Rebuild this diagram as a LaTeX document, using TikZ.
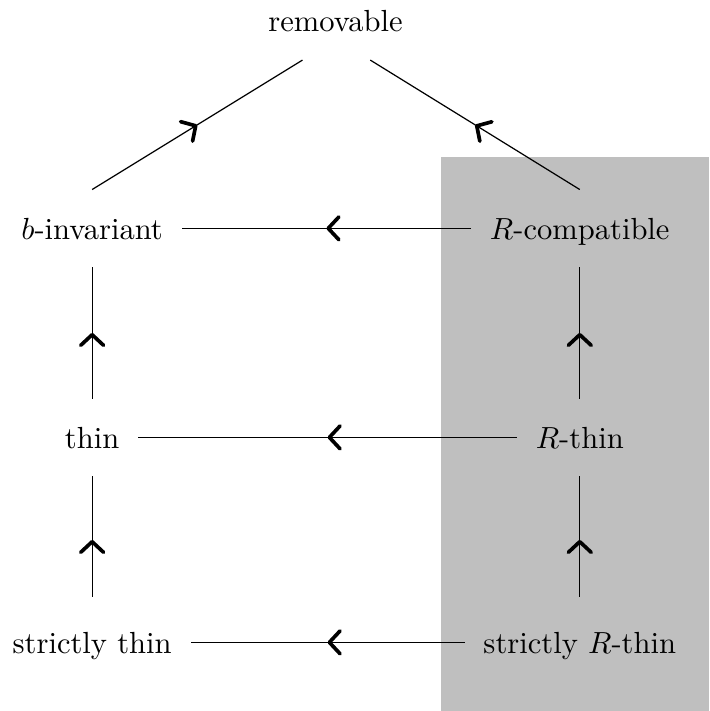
\documentclass[tikz,border=0pt]{standalone}
\usetikzlibrary{arrows.meta,decorations.markings}
\begin{document}
\begin{tikzpicture}[every node/.style={inner xsep=6pt,inner ysep=8pt,text height=8pt,text depth=1pt},
  imp/.style={decoration={markings,mark=at position .5 with {\arrow[line width=1.2pt]{Straight Barb[length=3.5pt,width=7.5pt,round]}}},postaction={decorate}}]
  \useasboundingbox (0,0) rectangle (8.16,-8.18);
  % shaded part
  \fill[gray!50] (5.07,-1.81) rectangle (8.16,-8.18);
  \node (rem) at (3.86,-0.245) {removable};
  \node (binv) at (1.06,-2.627) {$b$-invariant};
  \node (rcomp) at (6.67,-2.627) {$R$-compatible};
  \node (thin) at (1.06,-5.032) {thin};
  \node (rthin) at (6.67,-5.032) {$R$-thin};
  \node (sthin) at (1.06,-7.39) {strictly thin};
  \node (srthin) at (6.67,-7.39) {strictly $R$-thin};
  % Diagonal edges
  \draw[imp] (binv.north) -- ([xshift=-0.38cm]rem.south);
  \draw[imp] (rcomp.north) -- ([xshift=0.4cm]rem.south);
  % Horizontal edges
  \draw[imp] (rcomp) -- (binv);
  \draw[imp] (rthin) -- (thin);
  \draw[imp] (srthin) -- (sthin);
  % Vertical edges
  \draw[imp] (thin) -- (binv);
  \draw[imp,shorten <=2.3pt] (sthin) -- (thin);
  \draw[imp] (rthin) -- (rcomp);
  \draw[imp,shorten <=2.3pt] (srthin) -- (rthin);
\end{tikzpicture}
\end{document}
